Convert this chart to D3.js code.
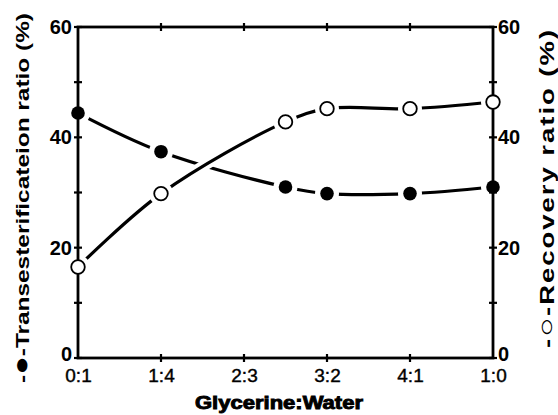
<!DOCTYPE html>
<html>
<head>
<meta charset="utf-8">
<script src="https://cdn.jsdelivr.net/npm/d3@7"></script>
<style>
  body { margin: 0; background: #fff; }
  text { font-family: "Liberation Sans", Arial, sans-serif; fill: #000; }
</style>
</head>
<body>
<div id="chart"></div>
<script>
// Glycerine fraction of the mixture and its label
const ratioTicks = [0, 0.2, 0.4, 0.6, 0.8, 1.0];
const ratioLabels = ['0:1', '1:4', '2:3', '3:2', '4:1', '1:0'];

// measured points (glycerine fraction)
const pointX = [0, 0.2, 0.5, 0.6, 0.8, 1.0];
const transValues = [44.4, 37.4, 31.0, 29.8, 29.8, 31.0];
const recoveryValues = [16.5, 29.8, 42.8, 45.2, 45.2, 46.4];

const yTicks = [0, 20, 40, 60];
const yMinorTicks = [10, 30, 50];

const width = 558, height = 415;
const margin = { top: 27, right: 65, bottom: 57, left: 78 };

const svg = d3.select('#chart').append('svg')
    .attr('width', width)
    .attr('height', height);

const x = d3.scaleLinear().domain([0, 1]).range([margin.left, width - margin.right]);
const y = d3.scaleLinear().domain([0, 60]).range([height - margin.bottom, margin.top]);

const transData = pointX.map((v, i) => ({ x: v, y: transValues[i] }));
const recData = pointX.map((v, i) => ({ x: v, y: recoveryValues[i] }));

const line = d3.line()
    .x(d => x(d.x))
    .y(d => y(d.y))
    .curve(d3.curveCatmullRom.alpha(0.5));

// filled series line
svg.append('path')
    .attr('d', line(transData))
    .attr('fill', 'none')
    .attr('stroke', '#000')
    .attr('stroke-width', 3.2);

// white casing so the open series breaks the filled one where they cross
svg.append('path')
    .attr('d', line(recData))
    .attr('fill', 'none')
    .attr('stroke', '#fff')
    .attr('stroke-width', 11);
svg.append('path')
    .attr('d', line(recData))
    .attr('fill', 'none')
    .attr('stroke', '#000')
    .attr('stroke-width', 3.2);

// gaps around markers
svg.append('g').selectAll('circle')
    .data(transData.concat(recData))
    .join('circle')
    .attr('cx', d => x(d.x))
    .attr('cy', d => y(d.y))
    .attr('r', 12)
    .attr('fill', '#fff');

// axes frame
const x0 = x(0), x1 = x(1), y0 = y(0), y1 = y(60);
svg.append('rect')
    .attr('x', x0).attr('y', y1)
    .attr('width', x1 - x0).attr('height', y0 - y1)
    .attr('fill', 'none')
    .attr('stroke', '#000')
    .attr('stroke-width', 2.8);

// bottom axis
const xAxis = svg.append('g')
    .attr('transform', `translate(0,${y0})`)
    .call(d3.axisBottom(x).tickValues(ratioTicks).tickFormat((d, i) => ratioLabels[i]).tickSize(0).tickPadding(11));
xAxis.select('.domain').remove();
xAxis.selectAll('text')
    .style('font-family', '"Liberation Sans", Arial, sans-serif')
    .style('font-size', '19px')
    .style('stroke', '#000')
    .style('stroke-width', 0.4)
    .attr('fill', '#000');

// x tick marks (bottom and top)
[y0, y1].forEach(yy => {
    svg.append('g').selectAll('line')
        .data(ratioTicks.slice(1, -1))
        .join('line')
        .attr('x1', d => x(d)).attr('x2', d => x(d))
        .attr('y1', yy - 4).attr('y2', yy + 4)
        .attr('stroke', '#000')
        .attr('stroke-width', 2.2);
});

// y tick marks, both sides
[x0, x1].forEach(xx => {
    svg.append('g').selectAll('line')
        .data(yTicks.concat(yMinorTicks))
        .join('line')
        .attr('x1', xx - 4).attr('x2', xx + 4)
        .attr('y1', d => y(d)).attr('y2', d => y(d))
        .attr('stroke', '#000')
        .attr('stroke-width', 2.2);
});

// y tick labels (the zero sits a little higher, clear of the x labels)
const labelY = d => y(d) - (d === 0 ? 4 : 0);

svg.append('g').selectAll('text')
    .data(yTicks)
    .join('text')
    .attr('x', x0 - 6)
    .attr('y', labelY)
    .attr('dy', '0.35em')
    .attr('text-anchor', 'end')
    .style('font-size', '20px')
    .style('font-weight', 'bold')
    .text(d => d);

svg.append('g').selectAll('text')
    .data(yTicks)
    .join('text')
    .attr('x', x1 + 5)
    .attr('y', labelY)
    .attr('dy', '0.35em')
    .attr('text-anchor', 'start')
    .style('font-size', '20px')
    .style('font-weight', 'bold')
    .text(d => d);

// markers
svg.append('g').selectAll('circle')
    .data(transData)
    .join('circle')
    .attr('cx', d => x(d.x))
    .attr('cy', d => y(d.y))
    .attr('r', 6.8)
    .attr('fill', '#000');

svg.append('g').selectAll('circle')
    .data(recData)
    .join('circle')
    .attr('cx', d => x(d.x))
    .attr('cy', d => y(d.y))
    .attr('r', 6.8)
    .attr('fill', '#fff')
    .attr('stroke', '#000')
    .attr('stroke-width', 1.8);

// axis titles
svg.append('text')
    .attr('x', (195 + 363) / 2)
    .attr('y', 409)
    .attr('text-anchor', 'middle')
    .attr('textLength', 168)
    .attr('lengthAdjust', 'spacingAndGlyphs')
    .style('font-size', '18px')
    .style('font-weight', 'bold')
    .style('stroke', '#000')
    .style('stroke-width', 0.9)
    .text('Glycerine:Water');

const leftTitle = svg.append('text')
    .attr('transform', `translate(29,198) rotate(-90)`)
    .attr('text-anchor', 'middle')
    .attr('textLength', 370)
    .attr('lengthAdjust', 'spacingAndGlyphs')
    .style('font-size', '19px')
    .style('font-weight', 'bold');
leftTitle.append('tspan').text('-');
leftTitle.append('tspan').style('font-size', '24px').text('●');
leftTitle.append('tspan').text('-Transesterificateion ratio (%)');

const rightTitle = svg.append('text')
    .attr('transform', `translate(554,188) rotate(-90)`)
    .attr('text-anchor', 'middle')
    .attr('textLength', 320)
    .attr('lengthAdjust', 'spacingAndGlyphs')
    .style('font-size', '21px')
    .style('font-weight', 'bold')
    .style('letter-spacing', '1.5px');
rightTitle.append('tspan').text('-');
rightTitle.append('tspan').style('font-size', '24px').text('○');
rightTitle.append('tspan').text('-Recovery ratio (%)');
</script>
</body>
</html>
